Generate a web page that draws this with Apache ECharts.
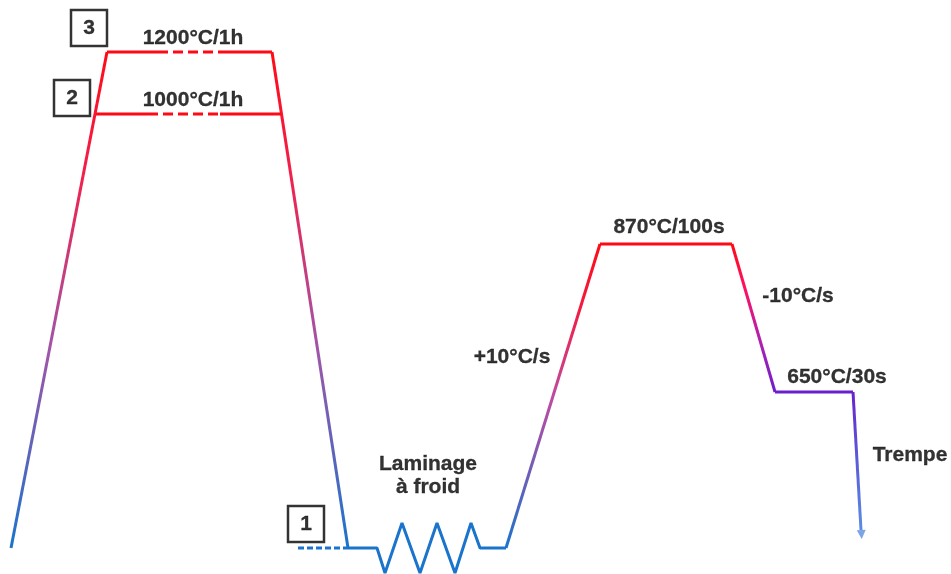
<!DOCTYPE html>
<html>
<head>
<meta charset="utf-8">
<script src="https://cdn.jsdelivr.net/npm/echarts@6/dist/echarts.min.js"></script>
<style>
  html, body { margin: 0; padding: 0; background: #fff; }
  #main { width: 951px; height: 574px; }
</style>
</head>
<body>
<div id="main"></div>
<script>
// diagram units: x = time (arbitrary), y = level (arbitrary, bottom = ambient)
var rampLeft = [[11, 26], [107, 522]];
var hold1200 = [[107, 522], [158, 522]];
var hold1200Dash = [[158, 522], [218, 522]];
var hold1200End = [[218, 522], [272, 522]];
var rampDown = [[272, 522], [348, 26]];
var hold1000 = [[96, 460], [148, 460]];
var hold1000Dash = [[148, 460], [220, 460]];
var hold1000End = [[220, 460], [281, 460]];
var ambientDash = [[298, 26], [348, 26]];
var rolling = [[348, 26], [377, 26], [385, 1], [402, 51], [420, 1], [437, 51], [455, 1], [471, 51], [480, 26], [506, 26]];
var heating = [[506, 26], [600, 330]];
var hold870 = [[600, 330], [732, 330]];
var cooling = [[732, 330], [775, 182]];
var hold650 = [[775, 182], [853, 182]];
var quench = [[853, 182], [861, 44]];
var quenchTip = [[861.5, 39.5]];

var notes = [
  [193, 536, '1200°C/1h'],
  [193, 474, '1000°C/1h'],
  [669, 347, '870°C/100s'],
  [798, 278, '-10°C/s'],
  [512, 217, '+10°C/s'],
  [837, 197, '650°C/30s'],
  [428, 110, 'Laminage'],
  [428, 87, 'à froid'],
  [910, 119, 'Trempe']
];
var boxes = [
  [89, 546, '3'],
  [72, 476, '2'],
  [306, 50, '1']
];

var RED = '#ff0a14', BLUE = '#1a74cc', PURPLE = '#6a1fcc', LIGHTBLUE = '#5b8fe0';

function grad(stops) {
  return new echarts.graphic.LinearGradient(0, 0, 0, 1, stops.map(function (s) {
    return { offset: s[0], color: s[1] };
  }));
}
var hotToCold = grad([[0, RED], [0.25, '#f2204c'], [0.6, '#a055a8'], [1, BLUE]]);

function seg(data, color, dash) {
  return {
    type: 'line',
    data: data,
    symbol: 'none',
    clip: false,
    silent: true,
    lineStyle: { color: color, width: 3, type: dash || 'solid', cap: 'butt' },
    z: 2
  };
}

var textStyle = {
  show: true,
  position: 'inside',
  formatter: function (p) { return p.value[2]; },
  color: '#000',
  textBorderColor: '#000',
  textBorderWidth: 0.3,
  fontFamily: 'Arial',
  fontWeight: 'bold',
  fontSize: 21
};

var chart = echarts.init(document.getElementById('main'));
var option = {
  animation: false,
  backgroundColor: '#fff',
  grid: { left: 0, right: 0, top: 0, bottom: 0 },
  xAxis: { type: 'value', min: 0, max: 951, show: false },
  yAxis: { type: 'value', min: 0, max: 574, show: false },
  series: [
    seg(rampLeft, hotToCold),
    seg(hold1200, RED),
    seg(hold1200Dash, RED, [10, 5]),
    seg(hold1200End, RED),
    seg(rampDown, hotToCold),
    seg(hold1000, RED),
    seg(hold1000Dash, RED, [10, 5]),
    seg(hold1000End, RED),
    seg(ambientDash, BLUE, [6, 3]),
    seg(rolling, BLUE),
    seg(heating, grad([[0, RED], [0.2, '#f41a3c'], [0.5, '#c04aa0'], [1, BLUE]])),
    seg(hold870, RED),
    seg(cooling, grad([[0, RED], [0.3, '#ff1060'], [0.65, '#b020b0'], [1, PURPLE]])),
    seg(hold650, PURPLE),
    seg(quench, grad([[0, PURPLE], [0.5, '#5a5cd8'], [1, LIGHTBLUE]])),
    {
      type: 'scatter',
      data: quenchTip,
      symbol: 'triangle',
      symbolSize: [9, 9],
      symbolRotate: 183,
      itemStyle: { color: LIGHTBLUE },
      silent: true,
      z: 3
    },
    {
      type: 'scatter',
      data: boxes,
      symbol: 'rect',
      symbolSize: [36, 36],
      itemStyle: { color: '#fff', borderColor: '#000', borderWidth: 2.5 },
      label: textStyle,
      silent: true,
      z: 4
    },
    {
      type: 'scatter',
      data: notes,
      symbolSize: 0,
      label: textStyle,
      silent: true,
      z: 4
    }
  ]
};
chart.setOption(option);
window.onresize = function () { chart.resize(); };
</script>
</body>
</html>
